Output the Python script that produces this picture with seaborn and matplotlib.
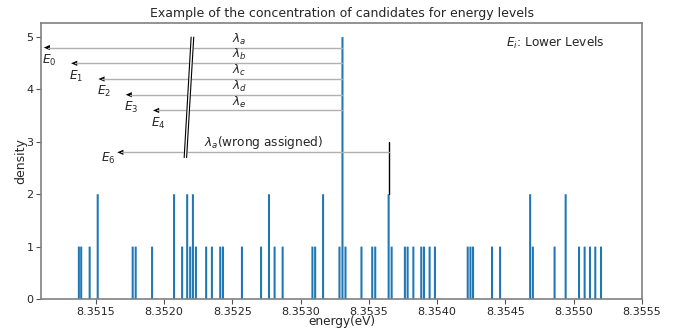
import numpy as np
import pandas as pd
import matplotlib
matplotlib.use("Agg")
import matplotlib.pyplot as plt
import seaborn as sns

# line candidates (energy in eV) and how many times each one shows up
energy = [8.351377, 8.351394, 8.351456, 8.351515, 8.351771, 8.351793, 8.351913,
          8.352074, 8.352133, 8.352170, 8.352192, 8.352212, 8.352234, 8.352309,
          8.352351, 8.352412, 8.352432, 8.352571, 8.352711, 8.352769, 8.352810,
          8.352869, 8.353087, 8.353107, 8.353165, 8.353285, 8.353307, 8.353329,
          8.353446, 8.353525, 8.353547, 8.353645, 8.353667, 8.353764, 8.353784,
          8.353826, 8.353884, 8.353904, 8.353945, 8.353984, 8.354224, 8.354244,
          8.354263, 8.354402, 8.354461, 8.354681, 8.354701, 8.354860, 8.354941,
          8.355039, 8.355080, 8.355119, 8.355158, 8.355200]
count = [1, 1, 1, 2, 1, 1, 1,
         2, 1, 2, 1, 2, 1, 1,
         1, 1, 1, 1, 1, 2, 1,
         1, 1, 1, 2, 1, 5, 1,
         1, 1, 1, 2, 1, 1, 1,
         1, 1, 1, 1, 1, 1, 1,
         1, 1, 1, 2, 1, 1, 2,
         1, 1, 1, 1, 1]

# lower levels the arrows point at
level_names = ["$E_0$", "$E_1$", "$E_2$", "$E_3$", "$E_4$"]
level_x = [8.35112, 8.35132, 8.35152, 8.35172, 8.35192]
arrow_y = [4.8, 4.5, 4.2, 3.9, 3.6]
lambda_names = [r"$\lambda_a$", r"$\lambda_b$", r"$\lambda_c$", r"$\lambda_d$", r"$\lambda_e$"]
main_line = 8.353307
wrong_line = 8.353645
wrong_level = 8.351658

df = pd.DataFrame({"energy": energy, "count": count})

sns.set_style("ticks")
plt.rcParams["font.family"] = ["DejaVu Sans"]

fig = plt.figure(figsize=(6.76, 3.29), dpi=100)
ax = fig.add_axes([0.0607, 0.0912, 0.889, 0.839])

# narrow bins around each candidate so every line gets its own bar
w = 0.000015
edges = np.sort(np.concatenate([df["energy"] - w / 2, df["energy"] + w / 2]))
sns.histplot(data=df, x="energy", weights="count", bins=list(edges), ax=ax,
             color="#1f77b4", alpha=1, linewidth=0, snap=False)


def arrow_to(x0, x1, y):
    # gray shaft + small black head
    ax.plot([x0, x1 + 0.00003], [y, y], color="#b0b0b0", lw=1)
    ax.arrow(x0, y, x1 - x0, 0, width=0, head_width=0.1, head_length=0.000045,
             length_includes_head=True, fc="black", ec="black", lw=0)


for name, lam, x, y in zip(level_names, lambda_names, level_x, arrow_y):
    arrow_to(main_line, x, y)
    ax.text(x - 0.000012, y - 0.245, name, fontsize=8.7, ha="left", va="center")
    ax.text(8.352554, y + 0.16, lam, fontsize=8.7, ha="center", va="center")

# wrongly assigned line
ax.plot([wrong_line, wrong_line], [2, 3], color="black", lw=1)
arrow_to(wrong_line, wrong_level, 2.8)
ax.text(8.35273, 2.98, r"$\lambda_a$(wrong assigned)", fontsize=8.7, ha="center", va="center")
ax.text(8.35159, 2.69, "$E_6$", fontsize=8.7, ha="center", va="center")

# axis break marks
ax.fill([8.352199, 8.352218, 8.352166, 8.352148], [5.0, 5.0, 2.7, 2.7],
        color="white", zorder=5)
ax.plot([8.352199, 8.352148], [5.0, 2.7], color="black", lw=0.8, zorder=6)
ax.plot([8.352218, 8.352166], [5.0, 2.7], color="black", lw=0.8, zorder=6)

ax.text(8.354503, 4.89, "$E_i$: Lower Levels", fontsize=8.7, ha="left", va="center")

ax.set_xlim(8.3511, 8.3555)
ax.set_ylim(0, 5.27)
ax.set_xticks([8.3515, 8.3520, 8.3525, 8.3530, 8.3535, 8.3540, 8.3545, 8.3550, 8.3555])
ax.set_xticklabels(["8.3515", "8.3520", "8.3525", "8.3530", "8.3535", "8.3540",
                    "8.3545", "8.3550", "8.3555"])
ax.set_yticks([0, 1, 2, 3, 4, 5])
ax.tick_params(labelsize=8, length=3.5, pad=2, color="#555555")
for s in ax.spines.values():
    s.set_color("#808080")
    s.set_linewidth(1.2)
ax.set_xlabel("energy(eV)", fontsize=8.7, labelpad=-1)
ax.set_ylabel("density", fontsize=9, labelpad=-1)
ax.set_title("Example of the concentration of candidates for energy levels", fontsize=9, pad=4)

fig.savefig("out.png", dpi=100)
